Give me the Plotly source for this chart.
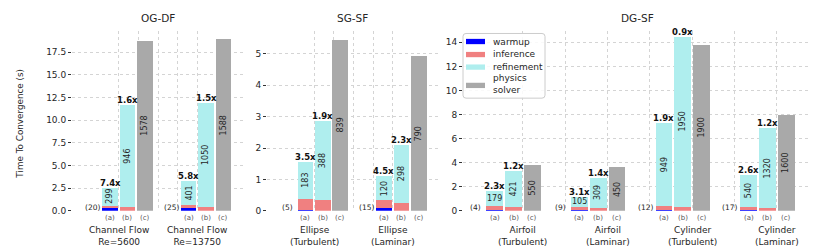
import plotly.graph_objects as go

W, H = 831, 249

panel_titles = ["OG-DF", "SG-SF", "DG-SF"]
case_labels = ["Channel Flow<br>Re=5600", "Channel Flow<br>Re=13750",
               "Ellipse<br>(Turbulent)", "Ellipse<br>(Laminar)",
               "Airfoil<br>(Turbulent)", "Airfoil<br>(Laminar)",
               "Cylinder<br>(Turbulent)", "Cylinder<br>(Laminar)"]
case_panel = [0, 0, 1, 1, 2, 2, 2, 2]
warmup_counts = [20, 25, 5, 15, 4, 9, 12, 17]

# (a) = warmup + inference + refinement
warmup_a = [0.28, 0.30, 0.04, 0.09, 0.10, 0.08, 0.10, 0.10]
inference_a = [0.29, 0.35, 0.33, 0.25, 0.33, 0.25, 0.33, 0.25]
refinement_a = [1.99, 2.63, 1.20, 0.76, 1.22, 0.84, 6.87, 2.66]
# (b) = inference + refinement
inference_b = [0.40, 0.40, 0.34, 0.25, 0.35, 0.24, 0.35, 0.24]
refinement_b = [11.23, 11.52, 2.53, 1.86, 2.93, 2.50, 14.11, 6.62]
# (c) = physics solver
physics_c = [18.76, 18.94, 5.45, 4.92, 3.77, 3.61, 13.78, 8.00]

iters_a = [299, 401, 183, 120, 179, 105, 949, 540]
iters_b = [946, 1050, 388, 298, 421, 309, 1950, 1320]
iters_c = [1578, 1588, 839, 790, 550, 450, 1900, 1600]
speedup_a = ["7.4x", "5.8x", "3.5x", "4.5x", "2.3x", "3.1x", "1.9x", "2.6x"]
speedup_b = ["1.6x", "1.5x", "1.9x", "2.3x", "1.2x", "1.4x", "0.9x", "1.2x"]

y_ticks = [[0, 2.5, 5, 7.5, 10, 12.5, 15, 17.5], [0, 1, 2, 3, 4, 5], [0, 2, 4, 6, 8, 10, 12, 14]]
y_fmt = [".1f", "d", "d"]

legend_names = ["warmup", "inference", "refinement", "physics<br>solver"]
legend_keys = ["warmup", "inference", "refinement", "physics"]

COL = {"warmup": "#0000ff", "inference": "#f08080", "refinement": "#afeeee", "physics": "#a9a9a9"}
FONT = "DejaVu Sans"
TXT = "#262626"

# layout in pixels
x_dom_px = [(64, 235), (259, 430), (455, 803)]
x_rng = [(-1.18, 8.62), (-1.2, 8.6), (-0.69, 17.82)]
y_rng = [19.88, 5.74, 14.98]
y_top_px, y_bot_px = 23, 207
ydom = [1 - y_bot_px / H, 1 - y_top_px / H]
GROUP_STEP = 4.5
label_slot = [1.5, 1.5, 2.5]
grid_step = [1.125, 1.125, 2.25]

fig = go.Figure()

pos = []
gi_count = [0, 0, 0]
for i, p in enumerate(case_panel):
    pos.append(GROUP_STEP * gi_count[p])
    gi_count[p] += 1

ax_names = ["", "2", "3"]
for p in range(3):
    idx = [i for i in range(8) if case_panel[i] == p]
    xa = "x" + ax_names[p]
    ya = "y" + ax_names[p]
    xs_a = [pos[i] + 1 for i in idx]
    xs_b = [pos[i] + 2 for i in idx]
    xs_c = [pos[i] + 3 for i in idx]
    common = dict(xaxis=xa, yaxis=ya, width=0.9, marker_line_width=0, showlegend=False)
    fig.add_bar(x=xs_a, y=[warmup_a[i] for i in idx], marker_color=COL["warmup"], name="warmup", **common)
    fig.add_bar(x=xs_a + xs_b, y=[inference_a[i] for i in idx] + [inference_b[i] for i in idx],
                marker_color=COL["inference"], name="inference", **common)
    fig.add_bar(x=xs_a + xs_b, y=[refinement_a[i] for i in idx] + [refinement_b[i] for i in idx],
                marker_color=COL["refinement"], name="refinement", **common)
    fig.add_bar(x=xs_c, y=[physics_c[i] for i in idx], marker_color=COL["physics"],
                name="physics solver", **common)

ann = []
shapes = []
for i in range(8):
    p = case_panel[i]
    xr = "x" + ax_names[p]
    yr = "y" + ax_names[p]
    ppu = (y_bot_px - y_top_px) / y_rng[p]
    s0 = pos[i]
    ann.append(dict(x=s0, y=0, xref=xr, yref=yr, text="(%d)" % warmup_counts[i], showarrow=False,
                    xanchor="center", yanchor="bottom", yshift=-3, font=dict(size=7.5, color=TXT)))
    for k, lab in enumerate(["(a)", "(b)", "(c)"]):
        ann.append(dict(x=s0 + 1 + k, y=0, xref=xr, yref=yr, text=lab, showarrow=False,
                        xanchor="center", yanchor="top", yshift=-1, font=dict(size=7, color="#555555")))
    base_a = warmup_a[i] + inference_a[i]
    hpx = refinement_a[i] * ppu
    ann.append(dict(x=s0 + 1, y=base_a + refinement_a[i] / 2, xref=xr, yref=yr, text=str(iters_a[i]),
                    showarrow=False, textangle=0 if hpx < 17 else -90, font=dict(size=8, color=TXT)))
    ann.append(dict(x=s0 + 2, y=inference_b[i] + refinement_b[i] / 2, xref=xr, yref=yr,
                    text=str(iters_b[i]), showarrow=False, textangle=-90, font=dict(size=8, color=TXT)))
    ann.append(dict(x=s0 + 3, y=physics_c[i] / 2, xref=xr, yref=yr, text=str(iters_c[i]),
                    showarrow=False, textangle=-90, font=dict(size=8, color=TXT)))
    ann.append(dict(x=s0 + 1, y=base_a + refinement_a[i], xref=xr, yref=yr, text="<b>%s</b>" % speedup_a[i],
                    showarrow=False, yanchor="bottom", yshift=-2, font=dict(size=8.5, color="#111111")))
    ann.append(dict(x=s0 + 2, y=inference_b[i] + refinement_b[i], xref=xr, yref=yr,
                    text="<b>%s</b>" % speedup_b[i], showarrow=False, yanchor="bottom", yshift=-2,
                    font=dict(size=8.5, color="#111111")))
    ann.append(dict(x=s0 + label_slot[p], y=1 - 219 / H, xref=xr, yref="paper", text=case_labels[i],
                    showarrow=False, xanchor="center", yanchor="top", font=dict(size=9, color=TXT)))

for p in range(3):
    cx = (x_dom_px[p][0] + x_dom_px[p][1]) / 2 / W
    ann.append(dict(x=cx, y=1 - 10 / H, xref="paper", yref="paper", text=panel_titles[p], showarrow=False,
                    xanchor="center", yanchor="middle", font=dict(size=10.5, color=TXT)))

ann.append(dict(x=12 / W, y=1 - 118 / H, xref="paper", yref="paper", text="Time To Convergence (s)",
                textangle=-90, showarrow=False, xanchor="center", yanchor="middle",
                font=dict(size=8.8, color=TXT)))

# hand-drawn legend (matplotlib style: wide patches, tight spacing)
def px(x): return x / W
def py(y): return 1 - y / H

lx0, ly0, lx1, ly1, r = 455, 26, 537, 92, 3
path = ("M {a},{b} L {c},{b} Q {C},{b} {C},{d} L {C},{e} Q {C},{D} {c},{D} L {a},{D} "
        "Q {A},{D} {A},{e} L {A},{d} Q {A},{b} {a},{b} Z").format(
    a=px(lx0 + r), b=py(ly0), c=px(lx1 - r), C=px(lx1), d=py(ly0 + r), e=py(ly1 - r),
    D=py(ly1), A=px(lx0))
shapes.append(dict(type="path", path=path, xref="paper", yref="paper", fillcolor="rgba(255,255,255,0.85)",
                   line=dict(color="#cccccc", width=1), layer="above"))
sym_y = [34.2, 47.5, 60.3, 79.0]
txt_y = [34.3, 47.3, 60.3, 78.0]
for k, key in enumerate(legend_keys):
    shapes.append(dict(type="rect", xref="paper", yref="paper", x0=px(458), x1=px(477),
                       y0=py(sym_y[k] - 2.7), y1=py(sym_y[k] + 2.7), fillcolor=COL[key],
                       line=dict(width=0), layer="above"))
    ann.append(dict(x=px(483), y=py(txt_y[k]), xref="paper", yref="paper", text=legend_names[k],
                    showarrow=False, xanchor="left", yanchor="middle", align="left",
                    font=dict(size=9, color=TXT)))

layout = dict(
    width=W, height=H, margin=dict(l=0, r=0, t=0, b=0),
    paper_bgcolor="white", plot_bgcolor="white", barmode="stack",
    font=dict(family=FONT, size=9, color=TXT),
    annotations=ann, shapes=shapes, showlegend=False,
)
for p in range(3):
    n = ax_names[p]
    grid_vals = []
    v = label_slot[p]
    last = GROUP_STEP * (gi_count[p] - 1) + label_slot[p] + 0.01
    while v <= last + 1e-9:
        grid_vals.append(v)
        v += grid_step[p]
    layout["xaxis" + n] = dict(domain=[x_dom_px[p][0] / W, x_dom_px[p][1] / W], range=list(x_rng[p]),
                               anchor="y" + n, tickvals=grid_vals, showticklabels=False, ticks="",
                               showgrid=True, gridcolor="#d4d4d4", griddash="dot", gridwidth=1,
                               zeroline=False, showline=False)
    layout["yaxis" + n] = dict(domain=ydom, range=[0, y_rng[p]], anchor="x" + n, tickvals=y_ticks[p],
                               tickformat=y_fmt[p], ticks="outside", ticklen=3, tickcolor="#333333",
                               tickwidth=1, showgrid=True, gridcolor="#d4d4d4", griddash="dot",
                               gridwidth=1, zeroline=False, showline=False,
                               tickfont=dict(size=9, color=TXT))
fig.update_layout(**layout)
fig.write_html("out.html")
